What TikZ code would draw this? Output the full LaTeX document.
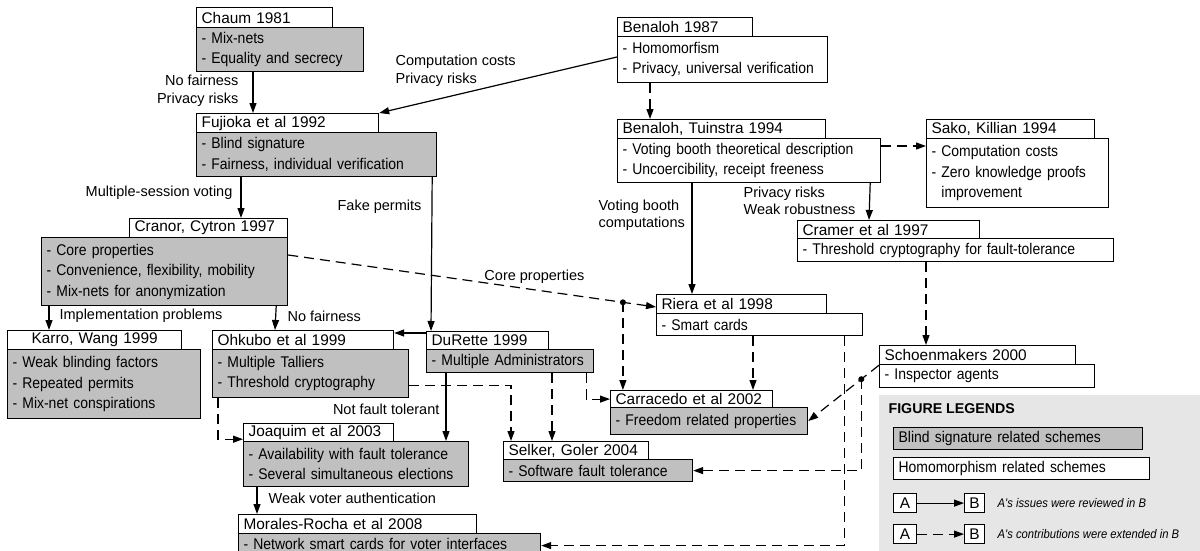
\documentclass[tikz,border=0pt]{standalone}
\usepackage{fontspec}
\usetikzlibrary{arrows.meta}

\newfontfamily\arialfont{Liberation Sans}
\newfontfamily\arialtight[FakeStretch=0.9]{Liberation Sans}
\newcommand{\hdrfont}{\fontsize{15.4}{18}\arialfont}
\newcommand{\bdyfont}{\fontsize{15.5}{20.5}\arialtight}
\newcommand{\lblfont}{\fontsize{14.5}{17.5}\arialfont}
\newcommand{\notefont}{\fontsize{12.5}{15}\arialtight\itshape}

\definecolor{boxgray}{RGB}{192,192,192}
\definecolor{legendgray}{RGB}{230,230,230}

\tikzset{
  hdr/.style={draw, fill=white, anchor=north west, inner xsep=5pt, inner ysep=0pt,
    minimum height=19pt, text width=#1-10pt, align=left, font=\hdrfont},
  bdy/.style={draw, fill=white, anchor=north west, inner xsep=5pt, inner ysep=0pt,
    text width=#1-10pt, align=left, font=\bdyfont},
  blind/.style={fill=boxgray},
  lbl/.style={inner sep=1pt, font=\lblfont},
  extd/.style={dash pattern=on 10pt off 6pt},
  tag/.style={draw, fill=white, anchor=north west, minimum height=19pt, inner sep=0pt, font=\hdrfont},
  note/.style={anchor=west, inner sep=0pt, font=\notefont}
}

\begin{document}
\begin{tikzpicture}[x=1pt, y=-1pt, line width=1.2pt, >={Triangle[length=10pt,width=7pt]}]
  \useasboundingbox (0,0) rectangle (1200,551);
  \clip (0,0) rectangle (1200,551);

  % legend background
  \fill[legendgray] (879,395) rectangle (1200,551);

  % blind signature branch
  \node[hdr=136, minimum height=20pt] (chaumH) at (196,7) {Chaum 1981};
  \node[bdy=167, blind, minimum height=44pt] (chaumB) at (196,27) {- Mix-nets\\- Equality and secrecy};
  \node[hdr=182] (fujiH) at (196,113) {Fujioka et al 1992};
  \node[bdy=240, blind, minimum height=44pt] (fujiB) at (196,132) {- Blind signature\\- Fairness, individual verification};
  \node[hdr=158] (cranH) at (129,218) {Cranor, Cytron 1997};
  \node[bdy=246, blind, minimum height=68pt] (cranB) at (41,237) {- Core properties\\- Convenience, flexibility, mobility\\- Mix-nets for anonymization};
  \node[hdr=174, align=center] (karH) at (7,330) {Karro, Wang 1999};
  \node[bdy=193, blind, minimum height=69pt] (karB) at (7,349) {- Weak blinding factors\\- Repeated permits\\- Mix-net conspirations};
  \node[hdr=181] (ohkH) at (212,330) {Ohkubo et al 1999};
  \node[bdy=196, blind, minimum height=48pt] (ohkB) at (212,349) {- Multiple Talliers\\- Threshold cryptography};
  \node[hdr=122, minimum height=18pt] (durH) at (426,331) {DuRette 1999};
  \node[bdy=167, blind, minimum height=23pt] (durB) at (426,349) {- Multiple Administrators};
  \node[hdr=150, minimum height=18pt] (joaH) at (243,423) {Joaquim et al 2003};
  \node[bdy=225, blind, minimum height=45pt] (joaB) at (243,441) {- Availability with fault tolerance\\- Several simultaneous elections};
  \node[hdr=238] (morH) at (238,514) {Morales-Rocha et al 2008};
  \node[bdy=302, blind, minimum height=20pt] (morB) at (238,533) {- Network smart cards for voter interfaces};
  \node[hdr=162, minimum height=17pt] (carH) at (610,390) {Carracedo et al 2002};
  \node[bdy=197, blind, minimum height=27pt] (carB) at (610,407) {- Freedom related properties};
  \node[hdr=145, minimum height=18pt] (selH) at (503,441) {Selker, Goler 2004};
  \node[bdy=189, blind, minimum height=22pt] (selB) at (503,459) {- Software fault tolerance};

  % homomorphism branch
  \node[hdr=135] (benH) at (617,17) {Benaloh 1987};
  \node[bdy=210, minimum height=46pt] (benB) at (617,36) {- Homomorfism\\- Privacy, universal verification};
  \node[hdr=208] (btH) at (617,119) {Benaloh, Tuinstra 1994};
  \node[bdy=263, minimum height=44pt] (btB) at (617,138) {- Voting booth theoretical description\\- Uncoercibility, receipt freeness};
  \node[hdr=168] (sakoH) at (926,119) {Sako, Killian 1994};
  \node[bdy=182, minimum height=69pt] (sakoB) at (926,138) {- Computation costs\\- Zero knowledge proofs\\\hphantom{- }improvement};
  \node[hdr=182, minimum height=18pt] (cramH) at (797,220) {Cramer et al 1997};
  \node[bdy=316, minimum height=23pt] (cramB) at (797,238) {- Threshold cryptography for fault-tolerance};
  \node[hdr=170] (rierH) at (656,294) {Riera et al 1998};
  \node[bdy=206, minimum height=22pt] (rierB) at (656,313) {- Smart cards};
  \node[hdr=196] (schH) at (879,345) {Schoenmakers 2000};
  \node[bdy=215, minimum height=23pt] (schB) at (879,364) {- Inspector agents};

  % issues reviewed
  \draw[->] ([xshift=57pt]chaumB.south west) -- ([xshift=57pt]fujiH.north west);
  \draw[->] ([yshift=-21pt]benB.north west) -- (fujiH.north east);
  \draw[->] ([xshift=45pt]fujiB.south west) -- ([xshift=112pt]cranH.north west);
  \draw[->] ([xshift=-5pt]fujiB.south east) -- ([xshift=5pt]durH.north west);
  \draw[->] ([xshift=8pt]cranB.south west) -- ([xshift=42pt]karH.north west);
  \draw[->] ([xshift=-12pt]cranB.south east) -- ([xshift=63pt]ohkH.north west);
  \draw[->] ([yshift=-2pt]durH.north west) -- ([yshift=-3pt]ohkH.north east);
  \draw[->] ([xshift=20pt]durB.south west) -- ([xshift=203pt]joaB.north west);
  \draw[->] ([xshift=14pt]joaB.south west) -- ([xshift=19pt]morH.north west);
  \draw[->] ([xshift=-11pt]btB.south east) -- ([xshift=72pt]cramH.north west);
  \draw[->] ([xshift=75pt]btB.south west) -- ([xshift=36pt]rierH.north west);

  % contributions extended
  \draw[extd, ->] ([xshift=33pt]benB.south west) -- ([xshift=33pt]btH.north west);
  \draw[extd, ->] ([yshift=-8pt]btB.north east) -- ([yshift=-8pt]sakoB.north west);
  \draw[extd, ->] ([yshift=-18pt]cranB.north east) -- coordinate[pos=0.91] (dotA) ([yshift=-13pt]rierH.north west);
  \fill (dotA) circle (3pt);
  \draw[extd, ->] (dotA) -- (dotA |- carH.north);
  \draw[extd, ->] ([xshift=97pt]rierB.south west) -- ([xshift=143pt]carH.north west);
  \draw[extd, ->] ([xshift=6pt]ohkB.south west) |- ([yshift=3pt]joaH.south west);
  \draw[extd, ->] ([yshift=13pt]ohkB.south east) -| ([xshift=8pt]selH.north west);
  \draw[extd, ->] ([xshift=126pt]durB.south west) -- ([xshift=49pt]selH.north west);
  \draw[extd, ->] ([xshift=-8pt]durB.south east) |- (carH.west);
  \draw[extd, ->] ([xshift=-19pt]rierB.south east) |- ([yshift=-2pt]morB.east);
  \draw[extd, ->] ([xshift=129pt]cramB.south west) -- ([xshift=47pt]schH.north west);
  \draw[extd, ->] (schH.south west) -- coordinate[pos=0.25] (dotB) (carB.east);
  \fill (dotB) circle (3pt);
  \draw[extd, ->] (dotB) |- (selB.east);

  % connector labels
  \node[lbl, anchor=east, align=right] (lNoFair) at (240,91) {No fairness\\Privacy risks};
  \node[lbl, anchor=west, align=left] (lCost) at (394,71) {Computation costs\\Privacy risks};
  \node[lbl, anchor=east] (lMulti) at (234,193) {Multiple-session voting};
  \node[lbl, anchor=east] (lFake) at (423,207) {Fake permits};
  \node[lbl, anchor=west, align=left] (lVote) at (597,215) {Voting booth\\computations};
  \node[lbl, anchor=west, align=left] (lRobust) at (742,201) {Privacy risks\\Weak robustness};
  \node[lbl, anchor=east] (lCore) at (586,277) {Core properties};
  \node[lbl, anchor=west] (lImpl) at (58,316) {Implementation problems};
  \node[lbl, anchor=west] (lNoFair2) at (286,316) {No fairness};
  \node[lbl, anchor=east] (lNotFT) at (441,409) {Not fault tolerant};
  \node[lbl, anchor=west] (lWeak) at (267,498) {Weak voter authentication};

  % legend
  \node[anchor=west, inner sep=0pt, font=\fontsize{14.2}{17}\arialfont\bfseries] (lgTitle) at (888,409) {FIGURE LEGENDS};
  \node[bdy=249, blind, minimum height=22pt] (lgBlind) at (893,427) {Blind signature related schemes};
  \node[bdy=256, minimum height=22pt] (lgHomo) at (893,457) {Homomorphism related schemes};
  \node[tag, minimum width=23pt] (lgA1) at (893,493) {A};
  \node[tag, minimum width=20pt] (lgB1) at (964,493) {B};
  \node[tag, minimum width=23pt] (lgA2) at (893,524) {A};
  \node[tag, minimum width=20pt] (lgB2) at (964,524) {B};
  \draw[->] (lgA1) -- (lgB1);
  \draw[extd, ->] (lgA2) -- (lgB2);
  \node[note] (lgN1) at (997,503) {A's issues were reviewed in B};
  \node[note] (lgN2) at (997,534) {A's contributions were extended in B};
\end{tikzpicture}
\end{document}
